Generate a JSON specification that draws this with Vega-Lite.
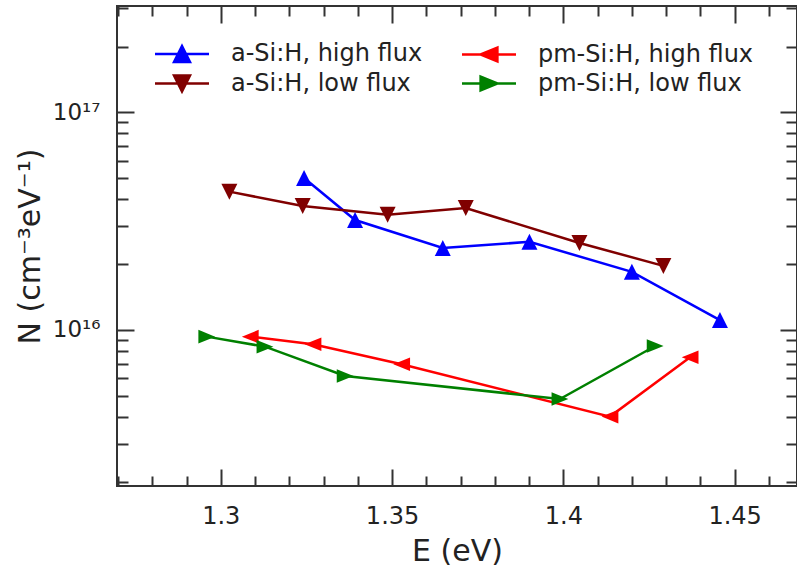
{
  "$schema": "https://vega.github.io/schema/vega-lite/v6.json",
  "width": 680,
  "height": 480,
  "autosize": {"type": "none"},
  "padding": {"left": 117, "top": 6, "right": 0, "bottom": 88},
  "background": "white",
  "config": {
    "view": {"stroke": "#333", "strokeWidth": 2},
    "font": "DejaVu Sans",
    "axis": {"domain": false, "grid": false, "tickColor": "#333", "tickWidth": 2, "labelColor": "#222", "titleColor": "#222", "labelFont": "DejaVu Sans", "titleFont": "DejaVu Sans", "titleFontWeight": "normal"}
  },
  "data": {
    "values": [
      {"series": "a-Si:H, high flux", "E": 1.3243, "N": 4.99e16},
      {"series": "a-Si:H, high flux", "E": 1.3392, "N": 3.20e16},
      {"series": "a-Si:H, high flux", "E": 1.3648, "N": 2.38e16},
      {"series": "a-Si:H, high flux", "E": 1.3901, "N": 2.54e16},
      {"series": "a-Si:H, high flux", "E": 1.4200, "N": 1.85e16},
      {"series": "a-Si:H, high flux", "E": 1.4457, "N": 1.11e16},
      {"series": "a-Si:H, low flux", "E": 1.3025, "N": 4.32e16},
      {"series": "a-Si:H, low flux", "E": 1.3239, "N": 3.71e16},
      {"series": "a-Si:H, low flux", "E": 1.3487, "N": 3.38e16},
      {"series": "a-Si:H, low flux", "E": 1.3715, "N": 3.63e16},
      {"series": "a-Si:H, low flux", "E": 1.4047, "N": 2.51e16},
      {"series": "a-Si:H, low flux", "E": 1.4292, "N": 1.97e16},
      {"series": "pm-Si:H, high flux", "E": 1.3086, "N": 9.32e15},
      {"series": "pm-Si:H, high flux", "E": 1.3269, "N": 8.60e15},
      {"series": "pm-Si:H, high flux", "E": 1.3528, "N": 6.96e15},
      {"series": "pm-Si:H, high flux", "E": 1.4136, "N": 4.00e15},
      {"series": "pm-Si:H, high flux", "E": 1.4370, "N": 7.49e15},
      {"series": "pm-Si:H, low flux", "E": 1.2959, "N": 9.32e15},
      {"series": "pm-Si:H, low flux", "E": 1.3129, "N": 8.38e15},
      {"series": "pm-Si:H, low flux", "E": 1.3363, "N": 6.15e15},
      {"series": "pm-Si:H, low flux", "E": 1.3990, "N": 4.82e15},
      {"series": "pm-Si:H, low flux", "E": 1.4268, "N": 8.44e15}
    ]
  },
  "layer": [
    {
      "mark": {"type": "line", "strokeWidth": 2.5},
      "encoding": {
        "x": {"field": "E", "type": "quantitative", "scale": {"domain": [1.2697, 1.4682], "nice": false, "zero": false},
          "axis": {"orient": "bottom", "values": [1.3, 1.35, 1.4, 1.45], "format": "~g", "tickSize": -17, "labelPadding": 35, "labelFontSize": 24, "title": "E (eV)", "titleFontSize": 30, "titlePadding": 8}},
        "y": {"field": "N", "type": "quantitative", "scale": {"type": "log", "domain": [1.92e15, 3.078e17], "nice": false},
          "axis": {"orient": "left", "values": [1e16, 1e17], "labelExpr": "datum.value < 5e16 ? '10¹⁶' : '10¹⁷'", "tickSize": -17, "labelPadding": 34, "labelFontSize": 23, "title": "N (cm⁻³eV⁻¹)", "titleFontSize": 30, "titlePadding": 7}},
        "color": {"field": "series", "type": "nominal",
          "scale": {"domain": ["a-Si:H, high flux", "a-Si:H, low flux", "pm-Si:H, high flux", "pm-Si:H, low flux"], "range": ["#0000ff", "#800000", "#ff0000", "#008000"]},
          "legend": null}
      }
    },
    {
      "transform": [{"filter": "datum.series === 'a-Si:H, high flux'"}],
      "mark": {"type": "point", "filled": true, "opacity": 1, "size": 256, "shape": "M0,-1L1,1L-1,1Z"},
      "encoding": {
        "x": {"field": "E", "type": "quantitative", "scale": {"domain": [1.2697, 1.4682], "nice": false, "zero": false},
          "axis": {"orient": "bottom", "values": [1.27, 1.28, 1.29, 1.31, 1.32, 1.33, 1.34, 1.36, 1.37, 1.38, 1.39, 1.41, 1.42, 1.43, 1.44, 1.46], "tickSize": -10, "labels": false, "title": null}},
        "y": {"field": "N", "type": "quantitative", "scale": {"type": "log", "domain": [1.92e15, 3.078e17], "nice": false},
          "axis": {"orient": "left", "values": [2e15, 3e15, 4e15, 5e15, 6e15, 7e15, 8e15, 9e15, 2e16, 3e16, 4e16, 5e16, 6e16, 7e16, 8e16, 9e16, 2e17, 3e17], "tickSize": -11, "labels": false, "title": null}},
        "color": {"field": "series", "type": "nominal", "legend": null}
      }
    },
    {
      "transform": [{"filter": "datum.series === 'a-Si:H, low flux'"}],
      "mark": {"type": "point", "filled": true, "opacity": 1, "size": 256, "shape": "M0,1L1,-1L-1,-1Z"},
      "encoding": {
        "x": {"field": "E", "type": "quantitative", "scale": {"domain": [1.2697, 1.4682], "nice": false, "zero": false},
          "axis": {"orient": "top", "values": [1.3, 1.35, 1.4, 1.45], "tickSize": -17, "labels": false, "title": null}},
        "y": {"field": "N", "type": "quantitative", "scale": {"type": "log", "domain": [1.92e15, 3.078e17], "nice": false},
          "axis": {"orient": "right", "values": [1e16, 1e17], "tickSize": -17, "labels": false, "title": null}},
        "color": {"field": "series", "type": "nominal", "legend": null}
      }
    },
    {
      "transform": [{"filter": "datum.series === 'pm-Si:H, high flux'"}],
      "mark": {"type": "point", "filled": true, "opacity": 1, "size": 256, "shape": "M-1.05,0L1.05,-0.85L1.05,0.85Z"},
      "encoding": {
        "x": {"field": "E", "type": "quantitative", "scale": {"domain": [1.2697, 1.4682], "nice": false, "zero": false},
          "axis": {"orient": "top", "values": [1.27, 1.28, 1.29, 1.31, 1.32, 1.33, 1.34, 1.36, 1.37, 1.38, 1.39, 1.41, 1.42, 1.43, 1.44, 1.46], "tickSize": -10, "labels": false, "title": null}},
        "y": {"field": "N", "type": "quantitative", "scale": {"type": "log", "domain": [1.92e15, 3.078e17], "nice": false},
          "axis": {"orient": "right", "values": [2e15, 3e15, 4e15, 5e15, 6e15, 7e15, 8e15, 9e15, 2e16, 3e16, 4e16, 5e16, 6e16, 7e16, 8e16, 9e16, 2e17, 3e17], "tickSize": -11, "labels": false, "title": null}},
        "color": {"field": "series", "type": "nominal", "legend": null}
      }
    },
    {
      "transform": [{"filter": "datum.series === 'pm-Si:H, low flux'"}],
      "mark": {"type": "point", "filled": true, "opacity": 1, "size": 256, "shape": "M1.05,0L-1.05,-0.85L-1.05,0.85Z"},
      "encoding": {
        "x": {"field": "E", "type": "quantitative", "scale": {"domain": [1.2697, 1.4682], "nice": false, "zero": false}, "axis": null},
        "y": {"field": "N", "type": "quantitative", "scale": {"type": "log", "domain": [1.92e15, 3.078e17], "nice": false}, "axis": null},
        "color": {"field": "series", "type": "nominal", "legend": null}
      }
    },
    {
      "mark": {"type": "point", "filled": true, "opacity": 0},
      "encoding": {
        "x": {"field": "E", "type": "quantitative", "scale": {"domain": [1.2697, 1.4682], "nice": false, "zero": false}, "axis": null},
        "y": {"field": "N", "type": "quantitative", "scale": {"type": "log", "domain": [1.92e15, 3.078e17], "nice": false}, "axis": null},
        "fill": {"field": "series", "type": "nominal",
          "scale": {"domain": ["a-Si:H, high flux", "pm-Si:H, high flux", "a-Si:H, low flux", "pm-Si:H, low flux"], "range": ["#0000ff", "#ff0000", "#800000", "#008000"]},
          "legend": {"orient": "none", "direction": "horizontal", "legendX": 53, "legendY": 36, "columns": 2, "columnPadding": 34, "rowPadding": 3.5, "symbolSize": 256, "symbolStrokeWidth": 2.5, "symbolOpacity": 1, "labelFontSize": 24, "labelFont": "DejaVu Sans", "labelColor": "#222", "labelOffset": 37, "labelLimit": 400, "title": null, "padding": 0, "symbolOffset": 0}},
        "stroke": {"field": "series", "type": "nominal",
          "scale": {"domain": ["a-Si:H, high flux", "pm-Si:H, high flux", "a-Si:H, low flux", "pm-Si:H, low flux"], "range": ["#0000ff", "#ff0000", "#800000", "#008000"]},
          "legend": {"orient": "none", "direction": "horizontal", "legendX": 53, "legendY": 36, "columns": 2, "columnPadding": 34, "rowPadding": 3.5, "symbolSize": 256, "symbolStrokeWidth": 2.5, "symbolOpacity": 1, "labelFontSize": 24, "labelFont": "DejaVu Sans", "labelColor": "#222", "labelOffset": 37, "labelLimit": 400, "title": null, "padding": 0, "symbolOffset": 0}},
        "shape": {"field": "series", "type": "nominal",
          "scale": {"domain": ["a-Si:H, high flux", "pm-Si:H, high flux", "a-Si:H, low flux", "pm-Si:H, low flux"],
            "range": ["M-3.375,0L3.375,0M0,-1L1,1L-1,1Z", "M-3.375,0L3.375,0M-1.05,0L1.05,-0.85L1.05,0.85Z", "M-3.375,0L3.375,0M0,1L1,-1L-1,-1Z", "M-3.375,0L3.375,0M1.05,0L-1.05,-0.85L-1.05,0.85Z"]},
          "legend": {"orient": "none", "direction": "horizontal", "legendX": 53, "legendY": 36, "columns": 2, "columnPadding": 34, "rowPadding": 3.5, "symbolSize": 256, "symbolStrokeWidth": 2.5, "symbolOpacity": 1, "labelFontSize": 24, "labelFont": "DejaVu Sans", "labelColor": "#222", "labelOffset": 37, "labelLimit": 400, "title": null, "padding": 0, "symbolOffset": 0}}
      }
    }
  ],
  "resolve": {"axis": {"x": "independent", "y": "independent"}}
}
